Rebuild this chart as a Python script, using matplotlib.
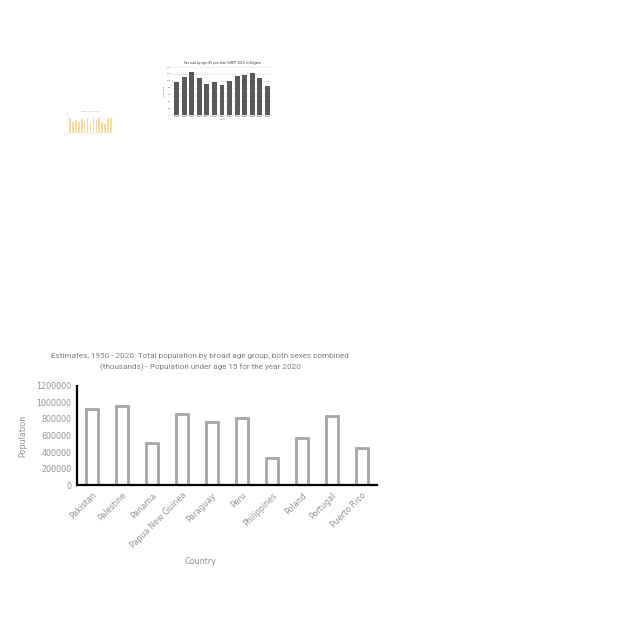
import matplotlib
matplotlib.use("Agg")
import matplotlib.pyplot as plt
import numpy as np

countries = ["Pakistan", "Palestine", "Panama", "Papua New Guinea", "Paraguay",
             "Peru", "Philippines", "Poland", "Portugal", "Puerto Rico"]
population = [915000, 955000, 515000, 865000, 760000, 815000, 330000, 575000, 835000, 455000]
yticks = [0, 200000, 400000, 600000, 800000, 1000000, 1200000]

thumb1_years = ["1950", "1955", "1960", "1965", "1970", "1975", "1980", "1985",
                "1990", "1995", "2000", "2005", "2010"]
thumb1_values = [95, 110, 126, 107, 91, 95, 88, 100, 113, 116, 123, 107, 85]
thumb2_values = [8, 6, 7, 6, 8, 6, 8, 5, 8, 7, 8, 6, 5, 8, 8]

GRAY = "#929292"
FS = 5.8
fig = plt.figure(figsize=(6.4, 6.4), dpi=100)

# Main chart
ax = fig.add_axes([0.120, 0.242, 0.469, 0.155])
x = np.arange(len(countries))
ax.bar(x, population, width=0.38, facecolor="white", edgecolor="#a6a6a6", linewidth=2)
ax.set_xlim(-0.5, len(countries) - 0.5)
ax.set_ylim(0, 1200000)
ax.set_yticks(yticks)
ax.set_yticklabels([str(v) for v in yticks], color=GRAY, fontsize=FS)
ax.set_xticks(x)
ax.set_xticklabels(countries, rotation=45, ha="right", rotation_mode="anchor",
                   color=GRAY, fontsize=FS)
for s in ["top", "right"]:
    ax.spines[s].set_visible(False)
ax.spines["left"].set_linewidth(1.6)
ax.spines["bottom"].set_linewidth(1.6)
ax.tick_params(length=0, pad=4)
ax.set_ylabel("Population", color=GRAY, fontsize=FS)
ax.yaxis.set_label_coords(-0.165, 0.5)
fig.text(200 / 640, 1 - 561 / 640, "Country", color=GRAY, fontsize=FS,
         ha="center", va="center")
fig.text(200 / 640, 1 - 362 / 640,
         "Estimates, 1950 - 2020: Total population by broad age group, both sexes combined\n"
         "(thousands) - Population under age 15 for the year 2020",
         color="#808080", fontsize=5.9, ha="center", va="center",
         family=["Roboto", "DejaVu Sans"], linespacing=1.6)

# Thumbnail 1 (dark bars)
t1 = fig.add_axes([172 / 640, 1 - 115 / 640, 100 / 640, 48 / 640])
xi = np.arange(len(thumb1_values))
t1.bar(xi, thumb1_values, width=0.65, color="#595959", zorder=3)
t1.set_xlim(-0.6, len(thumb1_values) - 0.4)
t1.set_ylim(0, 140)
t1.set_yticks(range(0, 141, 20))
t1.yaxis.grid(True, color="#e0e0e0", linewidth=0.4, zorder=0)
t1.set_xticks(xi)
t1.set_xticklabels(thumb1_years)
t1.tick_params(labelsize=1.6, length=0, pad=1, labelcolor="#555555")
for s in ["top", "right", "left"]:
    t1.spines[s].set_visible(False)
t1.spines["bottom"].set_linewidth(0.4)
t1.spines["bottom"].set_color("#bbbbbb")
t1.set_title("Sex ratio by age (85 year olds) (UNPP, 2011) in Bulgaria", fontsize=2.0,
             pad=2, color="#333333")
t1.set_ylabel("Sex ratio", fontsize=1.6, labelpad=1, color="#555555")
t1.set_xlabel("Year", fontsize=1.6, labelpad=1, color="#555555")

# Thumbnail 2 (light bars)
t2 = fig.add_axes([68 / 640, 1 - 133 / 640, 45 / 640, 19 / 640])
xj = np.arange(len(thumb2_values))
t2.bar(xj, thumb2_values, width=0.6, color="#f7dca0")
t2.set_xlim(-0.6, len(thumb2_values) - 0.4)
t2.set_ylim(0, 10)
t2.set_xticks(xj)
t2.set_xticklabels([""] * len(thumb2_values))
t2.set_yticks([0, 5, 10])
t2.tick_params(labelsize=1.0, length=0, pad=0.5, labelcolor="#aaaaaa")
for s in ["top", "right"]:
    t2.spines[s].set_visible(False)
for s in ["left", "bottom"]:
    t2.spines[s].set_linewidth(0.3)
    t2.spines[s].set_color("#dddddd")
t2.set_title("Population by age group", fontsize=1.2, pad=1.5, color="#999999")
t2.set_xlabel("Year", fontsize=1.0, labelpad=0.5, color="#999999")

fig.savefig("out.png", dpi=100, facecolor="white")
